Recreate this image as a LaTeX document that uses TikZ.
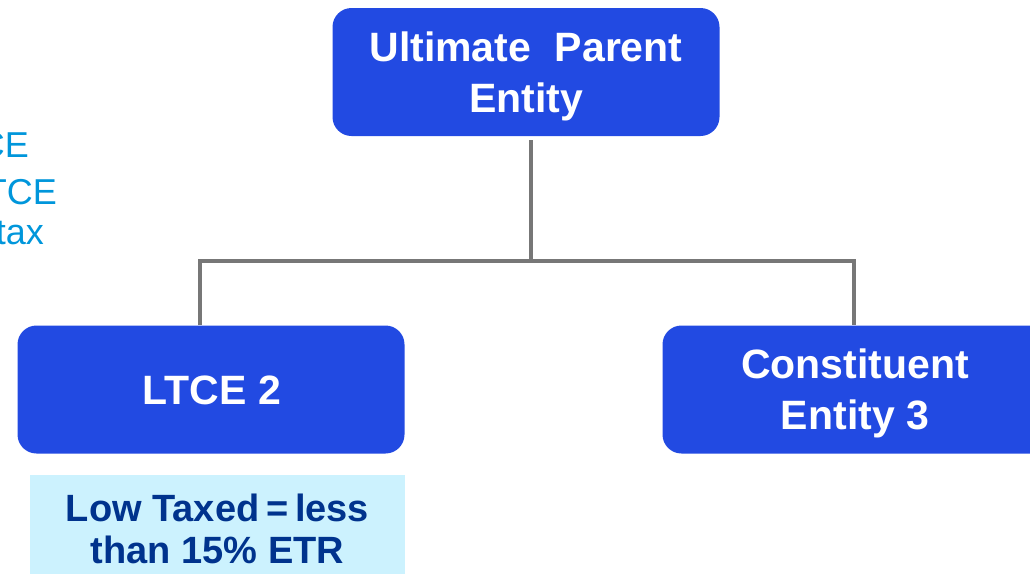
\documentclass[tikz,border=0pt]{standalone}
\usepackage{fontspec}
\setmainfont{Liberation Sans}
\begin{document}
\definecolor{entityblue}{RGB}{34,74,226}
\definecolor{notefill}{RGB}{204,242,254}
\definecolor{notetext}{RGB}{0,51,141}
\definecolor{sidetext}{RGB}{0,150,219}
\definecolor{linkgray}{RGB}{119,119,119}
\begin{tikzpicture}[x=1pt,y=-1pt,
  entity/.style={fill=entityblue, draw=none, rounded corners=19pt, inner sep=0pt,
                 minimum width=387pt, minimum height=128pt},
  etext/.style={text=white, font=\bfseries\fontsize{41}{51}\selectfont, align=center, inner sep=0pt},
  note/.style={fill=notefill, draw=none, inner sep=0pt, minimum width=375pt, minimum height=130pt},
  ntext/.style={text=notetext, font=\bfseries\fontsize{38}{42}\selectfont, align=center, inner sep=0pt},
  side/.style={text=sidetext, font=\fontsize{36}{43}\selectfont, inner sep=0pt, anchor=base east},
  link/.style={draw=linkgray, line width=4pt}]
\useasboundingbox (0,0) rectangle (1030,573);

% side notes running in from the left edge
\node[side] (s1) at (29,157) {CE};
\node[side] (s2) at (57,204) {TCE};
\node[side] (s3) at (44,244) {tax};

% entity boxes
\node[entity] (upe) at (526,72) {};
\node[etext, anchor=north] (upet) at (526,32) {Ultimate\hspace{0.3em} Parent\\Entity};
\node[entity] (ltce) at (211,389.5) {};
\node[etext, anchor=base] (ltcet) at (212,404) {LTCE 2};
\node[entity] (ce3) at (856,389.5) {};
\node[etext, anchor=north] (ce3t) at (855,349) {Constituent\\Entity 3};

% low-tax note
\node[note, anchor=north west] (lt) at (30,475) {};
\node[ntext, anchor=north] (ltt) at (217.5,494) {Low Taxed\hspace{-0.1em} =\hspace{-0.1em} less\\than 15\% ETR};

% ownership links
\coordinate (top) at (531,140);
\coordinate (j) at (531,261);
\coordinate (lj) at (200,261);
\coordinate (rj) at (854,261);
\draw[link] (top) -- (j);
\draw[link] (ltce.north -| lj) -- (lj) -- (rj) -- (ce3.north -| rj);
\end{tikzpicture}
\end{document}
